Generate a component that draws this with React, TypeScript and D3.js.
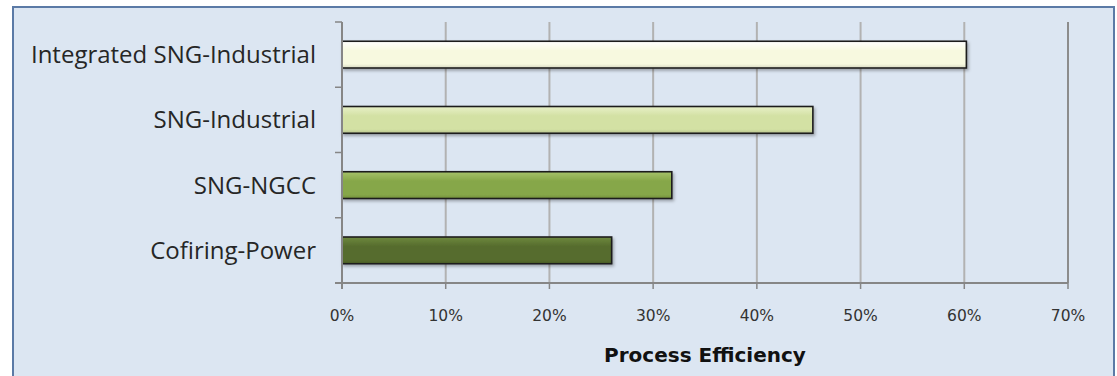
import React from "react";
import * as d3 from "d3";

const categories = ["Integrated SNG-Industrial", "SNG-Industrial", "SNG-NGCC", "Cofiring-Power"];
const values = [0.602, 0.454, 0.318, 0.26];
const barColors = ["#f7f9df", "#d3e1a4", "#86a748", "#566c2d"];
const barHighlights = ["#ffffff", "#e8f0c8", "#a6c26a", "#6e893f"];
const xTicks = [0, 0.1, 0.2, 0.3, 0.4, 0.5, 0.6, 0.7];
const xTitle = "Process Efficiency";

const W = 1117;
const H = 376;
const plot = { left: 342, right: 1068, top: 22, bottom: 283 };

export default function App() {
  const x = d3.scaleLinear().domain([0, 0.7]).range([plot.left, plot.right]);
  const y = d3
    .scaleBand<string>()
    .domain(categories)
    .range([plot.top, plot.bottom])
    .paddingInner(0.59)
    .paddingOuter(0.295);
  const band = (plot.bottom - plot.top) / categories.length;
  const boundaries = d3.range(categories.length + 1).map((i) => plot.top + i * band);
  const fmt = d3.format(".0%");

  return (
    <svg
      width={W}
      height={H}
      style={{ position: "absolute", left: 0, top: 0, background: "#ffffff" }}
    >
      <defs>
        {barColors.map((c, i) => (
          <linearGradient key={i} id={`g${i}`} x1="0" y1="0" x2="0" y2="1">
            <stop offset="0" stopColor={barHighlights[i]} />
            <stop offset="0.35" stopColor={c} />
            <stop offset="0.85" stopColor={c} />
            <stop offset="1" stopColor={d3.color(c)!.darker(0.4).formatHex()} />
          </linearGradient>
        ))}
        <filter id="shadow" x="-5%" y="-30%" width="110%" height="180%">
          <feDropShadow dx="1.5" dy="2" stdDeviation="1.5" floodColor="#000" floodOpacity="0.3" />
        </filter>
      </defs>
      <rect x={13} y={7} width={1101} height={380} fill="#dce6f2" stroke="#5b7aa6" strokeWidth={2} />

      {/* gridlines */}
      {xTicks.map((t, i) => (
        <line
          key={`g${t}`}
          x1={x(t)}
          x2={x(t)}
          y1={plot.top}
          y2={plot.bottom}
          stroke={i === xTicks.length - 1 ? "#8c8c8c" : "#b2b2b2"}
          strokeWidth={2}
        />
      ))}

      {/* bars */}
      {categories.map((c, i) => (
        <rect
          key={c}
          x={x(0)}
          y={y(c)!}
          width={x(values[i]) - x(0)}
          height={y.bandwidth()}
          fill={`url(#g${i})`}
          stroke="#1e1e1e"
          strokeWidth={1.6}
          filter="url(#shadow)"
        />
      ))}

      {/* y axis */}
      <line x1={plot.left} x2={plot.left} y1={plot.top} y2={plot.bottom + 6} stroke="#868686" strokeWidth={2} />
      {boundaries.map((b) => (
        <line key={`yt${b}`} x1={plot.left - 7} x2={plot.left} y1={b} y2={b} stroke="#868686" strokeWidth={1.5} />
      ))}
      {/* x axis */}
      <line x1={plot.left - 7} x2={plot.right} y1={plot.bottom} y2={plot.bottom} stroke="#868686" strokeWidth={2} />
      {xTicks.map((t) => (
        <line key={`xt${t}`} x1={x(t)} x2={x(t)} y1={plot.bottom} y2={plot.bottom + 6} stroke="#868686" strokeWidth={1.5} />
      ))}

      {/* tick labels */}
      {xTicks.map((t) => (
        <text
          key={`xl${t}`}
          x={x(t)}
          y={321}
          textAnchor="middle"
          fontFamily="DejaVu Sans"
          fontSize={15.5}
          fill="#333"
        >
          {fmt(t)}
        </text>
      ))}

      {categories.map((c) => (
        <text
          key={`yl${c}`}
          x={316}
          y={y(c)! + y.bandwidth() / 2}
          dy="0.35em"
          textAnchor="end"
          fontFamily="Open Sans"
          fontSize={24}
          fill="#262626"
        >
          {c}
        </text>
      ))}

      <text
        x={(plot.left + plot.right) / 2}
        y={362}
        textAnchor="middle"
        fontFamily="DejaVu Sans"
        fontWeight="bold"
        fontSize={20}
        fill="#111"
      >
        {xTitle}
      </text>
    </svg>
  );
}
